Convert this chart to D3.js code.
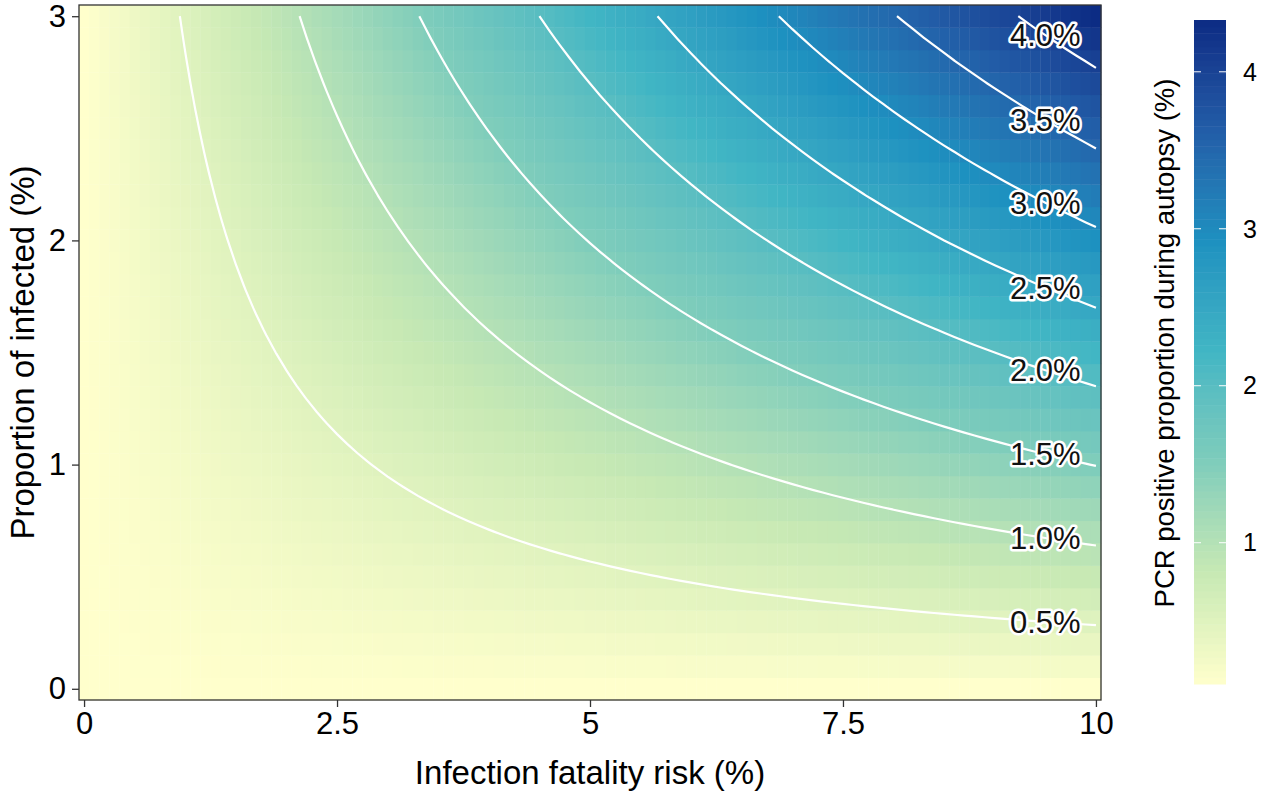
<!DOCTYPE html>
<html lang="en">
<head>
  <meta charset="UTF-8">
  <title>PCR positive proportion during autopsy</title>
  <script src="https://d3js.org/d3.v7.min.js"></script>
  <style>
    body {
      margin: 0;
      background: white;
    }

    svg {
      display: block;
      font-family: "Liberation Sans", Arial, sans-serif;
    }
  </style>
</head>
<body>
  <div id="chart"></div>

  <script>
    // grid of the raster (both axes in %, 0.1 steps)
    const ifrGrid = d3.range(0, 101).map(i => i / 10)      // infection fatality risk
    const propGrid = d3.range(0, 31).map(i => i / 10)      // proportion of infected

    // contour levels and the IFR x proportion product
    const contourLevels = [0.5, 1.0, 1.5, 2.0, 2.5, 3.0, 3.5, 4.0]
    const levelProducts = [2.84, 6.39, 9.94, 13.5, 17.0, 20.6, 24.1, 27.7]
    // fill value at the two corners of the panel (product 0 and 30)
    const cornerValues = [0.1, 4.33]

    const xTicks = [0, 2.5, 5, 7.5, 10]
    const yTicks = [0, 1, 2, 3]
    const legendTicks = [1, 2, 3, 4]
    const palette = ['#ffffcc', '#c7e9b4', '#7fcdbb', '#41b6c4', '#1d91c0', '#225ea8', '#0c2c84']

    const width = 1263
    const height = 795
    const panel = { left: 79, right: 1101, top: 5, bottom: 700 }

    const svg = d3.select('#chart')
      .append('svg')
      .attr('width', width)
      .attr('height', height)

    const x = d3.scaleLinear()
      .domain([-0.05, 10.05])
      .range([panel.left, panel.right])

    const y = d3.scaleLinear()
      .domain([-0.05, 3.05])
      .range([panel.bottom, panel.top])

    // value as a function of IFR x proportion, through the read table
    const valueOf = d3.scaleLinear()
      .domain([0, ...levelProducts, 30])
      .range([cornerValues[0], ...contourLevels, cornerValues[1]])

    const color = d3.scaleLinear()
      .domain(palette.map((_, i) => cornerValues[0] + i * (cornerValues[1] - cornerValues[0]) / (palette.length - 1)))
      .range(palette)
      .interpolate(d3.interpolateLab)

    const cells = []
    propGrid.forEach(p => {
      ifrGrid.forEach(f => {
        cells.push({ f, p, v: valueOf(f * p) })
      })
    })

    // raster
    svg.append('g')
      .selectAll('rect')
      .data(cells)
      .enter()
      .append('rect')
      .attr('x', d => x(d.f - 0.05))
      .attr('y', d => y(d.p + 0.05))
      .attr('width', d => x(d.f + 0.05) - x(d.f - 0.05) + 0.4)
      .attr('height', d => y(d.p - 0.05) - y(d.p + 0.05) + 0.4)
      .attr('fill', d => color(d.v))

    // contour lines
    const nx = ifrGrid.length
    const ny = propGrid.length
    const contours = d3.contours()
      .size([nx, ny])
      .thresholds(contourLevels)(cells.map(d => d.v))

    const gx = c => x(ifrGrid[0] + (c - 0.5) * 0.1)
    const gy = c => y(propGrid[0] + (c - 0.5) * 0.1)
    const onEdge = pt => pt[0] === 0 || pt[0] === nx || pt[1] === 0 || pt[1] === ny

    const lines = []
    contours.forEach(c => {
      c.coordinates.forEach(poly => {
        poly.forEach(ring => {
          const pts = ring.slice(0, -1)
          const start = pts.findIndex(onEdge)
          if (start < 0) {
            lines.push(ring)
            return
          }
          const rot = pts.slice(start).concat(pts.slice(0, start))
          let run = []
          rot.forEach(pt => {
            if (onEdge(pt)) {
              if (run.length > 1) lines.push(run)
              run = []
            } else {
              run.push(pt)
            }
          })
          if (run.length > 1) lines.push(run)
        })
      })
    })

    const line = d3.line()
      .x(d => gx(d[0]))
      .y(d => gy(d[1]))

    svg.append('g')
      .selectAll('path')
      .data(lines)
      .enter()
      .append('path')
      .attr('d', line)
      .attr('fill', 'none')
      .attr('stroke', 'white')
      .attr('stroke-width', 2.2)

    // contour labels at IFR 9.5
    const labelX = 9.5
    svg.append('g')
      .selectAll('text')
      .data(contourLevels)
      .enter()
      .append('text')
      .attr('x', x(labelX))
      .attr('y', (d, i) => y(levelProducts[i] / labelX))
      .attr('dy', '0.36em')
      .attr('text-anchor', 'middle')
      .attr('font-size', '31px')
      .attr('fill', '#111')
      .attr('stroke', 'white')
      .attr('stroke-width', 5)
      .attr('stroke-linejoin', 'round')
      .attr('paint-order', 'stroke')
      .text(d => d.toFixed(1) + '%')

    // panel border
    svg.append('rect')
      .attr('x', panel.left)
      .attr('y', panel.top)
      .attr('width', panel.right - panel.left)
      .attr('height', panel.bottom - panel.top)
      .attr('fill', 'none')
      .attr('stroke', '#333')
      .attr('stroke-width', 1.3)

    // axes
    const xAxis = svg.append('g')
      .attr('transform', `translate(0,${panel.bottom})`)
      .call(d3.axisBottom(x).tickValues(xTicks).tickFormat(d3.format('')).tickSize(7).tickPadding(5))
    const yAxis = svg.append('g')
      .attr('transform', `translate(${panel.left},0)`)
      .call(d3.axisLeft(y).tickValues(yTicks).tickFormat(d3.format('')).tickSize(7).tickPadding(6))

    ;[xAxis, yAxis].forEach(a => {
      a.select('.domain').remove()
      a.selectAll('.tick line').attr('stroke', '#333').attr('stroke-width', 1.3)
      a.selectAll('.tick text')
        .attr('font-family', '"Liberation Sans", Arial, sans-serif')
        .attr('font-size', '31px')
        .attr('fill', 'black')
    })

    svg.append('text')
      .attr('x', (panel.left + panel.right) / 2)
      .attr('y', 784)
      .attr('text-anchor', 'middle')
      .attr('font-size', '33px')
      .text('Infection fatality risk (%)')

    svg.append('text')
      .attr('transform', `translate(34,${(panel.top + panel.bottom) / 2}) rotate(-90)`)
      .attr('text-anchor', 'middle')
      .attr('font-size', '33px')
      .text('Proportion of infected (%)')

    // colour bar
    const bar = { x: 1194, w: 32 }
    const yLegend = d3.scaleLinear()
      .domain(cornerValues)
      .range([684, 20])

    const binValues = d3.range(0, 100).map(i => cornerValues[0] + (i + 0.5) * (cornerValues[1] - cornerValues[0]) / 100)
    const binH = (684 - 20) / 100

    svg.append('g')
      .selectAll('rect')
      .data(binValues)
      .enter()
      .append('rect')
      .attr('x', bar.x)
      .attr('y', d => yLegend(d) - binH / 2)
      .attr('width', bar.w)
      .attr('height', binH + 0.5)
      .attr('fill', d => color(d))

    const legendTickG = svg.append('g')
      .selectAll('g')
      .data(legendTicks)
      .enter()
      .append('g')
      .attr('transform', d => `translate(0,${yLegend(d)})`)

    legendTickG.append('line')
      .attr('x1', bar.x).attr('x2', bar.x + 7)
      .attr('stroke', 'white').attr('stroke-width', 1)
    legendTickG.append('line')
      .attr('x1', bar.x + bar.w - 7).attr('x2', bar.x + bar.w)
      .attr('stroke', 'white').attr('stroke-width', 1)
    legendTickG.append('text')
      .attr('x', 1243)
      .attr('dy', '0.35em')
      .attr('font-size', '25px')
      .text(d => d)

    svg.append('text')
      .attr('transform', `translate(1174,343) rotate(-90)`)
      .attr('text-anchor', 'middle')
      .attr('font-size', '27.5px')
      .text('PCR positive proportion during autopsy (%)')
  </script>
</body>
</html>
